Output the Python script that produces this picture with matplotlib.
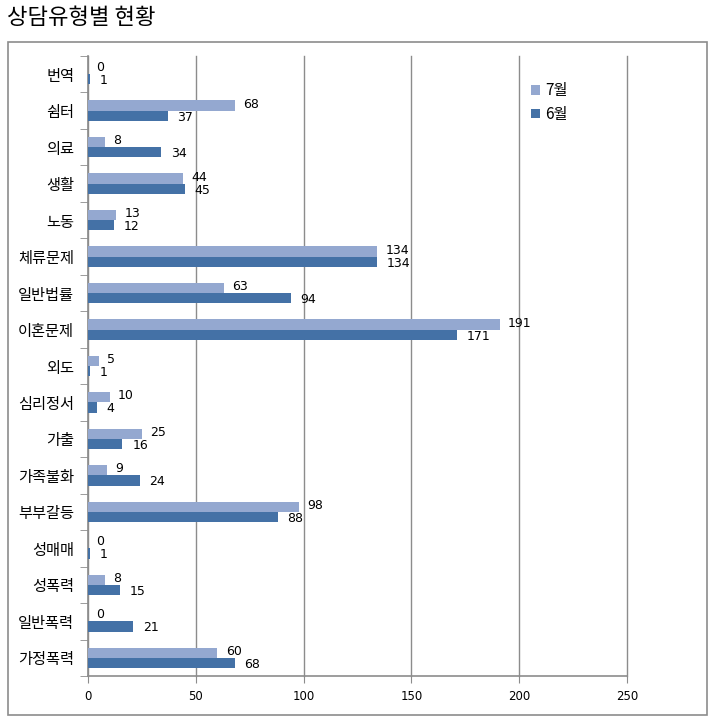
import matplotlib.pyplot as plt
import numpy as np
from matplotlib.patches import Rectangle

plt.rcParams['font.family'] = ['Noto Sans CJK KR', 'DejaVu Sans']

# Datos
categorias = ['번역', '쉼터', '의료', '생활', '노동', '체류문제', '일반법률', '이혼문제', '외도',
              '심리정서', '가출', '가족불화', '부부갈등', '성매매', '성폭력', '일반폭력', '가정폭력']
julio = [0, 68, 8, 44, 13, 134, 63, 191, 5, 10, 25, 9, 98, 0, 8, 0, 60]
junio = [1, 37, 34, 45, 12, 134, 94, 171, 1, 4, 16, 24, 88, 1, 15, 21, 68]
ticks_x = [0, 50, 100, 150, 200, 250]

c_julio = '#94A8D0'
c_junio = '#4471A6'
gris = '#8C8C8C'

fig = plt.figure(figsize=(7.12, 7.2), dpi=100)
fig.patches.append(Rectangle((8/712, 1-715/720), 699/712, 673/720, transform=fig.transFigure,
                             fill=False, edgecolor=gris, linewidth=1.2))
fig.text(7/712, 1-18/720, '상담유형별 현황', fontsize=16, va='center', ha='left')

ax = fig.add_axes([88/712, 1-676/720, 539/712, 620/720])

y = np.arange(len(categorias))
h = 0.28
ax.barh(y - h/2, julio, height=h, color=c_julio, label='7월', zorder=3)
ax.barh(y + h/2, junio, height=h, color=c_junio, label='6월', zorder=3)

for i in range(len(categorias)):
    ax.annotate(str(julio[i]), (julio[i], y[i] - h/2), xytext=(6, 1), textcoords='offset points',
                va='center', ha='left', fontsize=9, family='DejaVu Sans')
    ax.annotate(str(junio[i]), (junio[i], y[i] + h/2), xytext=(7, -1), textcoords='offset points',
                va='center', ha='left', fontsize=9, family='DejaVu Sans')

ax.set_xlim(0, 250)
ax.set_ylim(len(categorias) - 0.5, -0.5)
ax.set_xticks(ticks_x)
ax.set_xticklabels([str(t) for t in ticks_x], fontsize=8.5, family='DejaVu Sans')
ax.set_yticks(y)
ax.set_yticklabels(categorias, fontsize=11)
ax.set_yticks(np.arange(-0.5, len(categorias), 1), minor=True)
ax.tick_params(axis='y', which='major', length=0, pad=10)
ax.tick_params(axis='y', which='minor', length=6, color=gris)
ax.tick_params(axis='x', length=5, color=gris, pad=5)

ax.grid(axis='x', color=gris, linewidth=1, zorder=0)
for linea in ax.get_xgridlines():
    linea.set_clip_on(False)
for s in ['top', 'right']:
    ax.spines[s].set_visible(False)
for s in ['left', 'bottom']:
    ax.spines[s].set_color(gris)
    ax.spines[s].set_linewidth(1.2)

ax.legend(loc='upper left', bbox_to_anchor=(0.797, 0.98), frameon=False, fontsize=11,
          handlelength=0.6, handleheight=0.6, handletextpad=0.3, labelspacing=0.45)

plt.savefig('out.png', dpi=100)
